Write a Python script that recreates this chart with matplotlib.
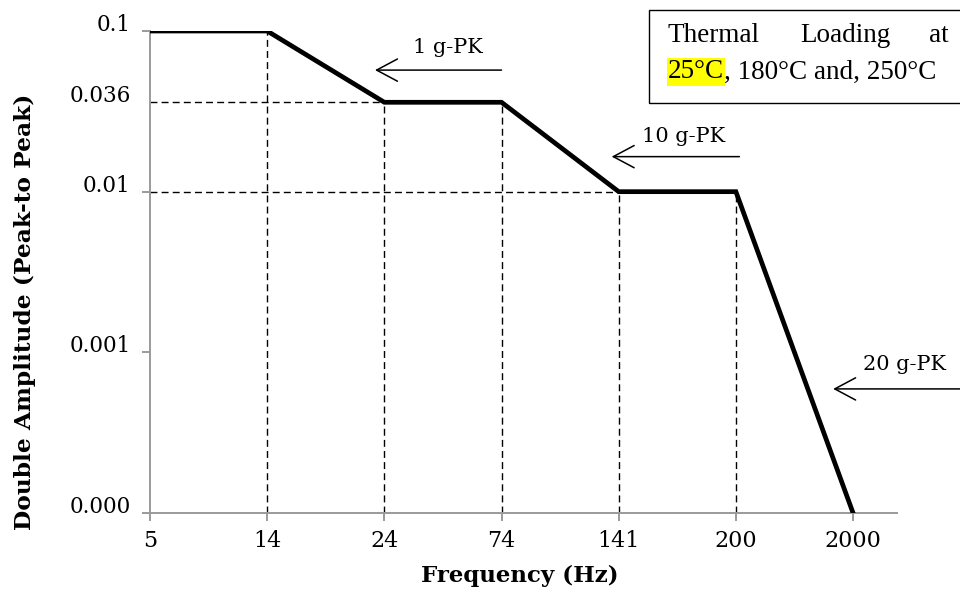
import matplotlib
matplotlib.use("Agg")
import matplotlib.pyplot as plt
from matplotlib.patches import Rectangle
from matplotlib.transforms import ScaledTranslation

# vibration profile, frequencies are plotted as equally spaced categories
freq_labels = ["5", "14", "24", "74", "141", "200", "2000"]
# "0.000" on the chart sits one decade under 0.001 on the log axis
amplitude = [0.1, 0.1, 0.036, 0.036, 0.01, 0.01, 0.0001]
ytick_vals = [0.0001, 0.001, 0.01, 0.036, 0.1]
ytick_labels = ["0.000", "0.001", "0.01", "0.036", "0.1"]

# g-PK labels: (text, text pos, arrow tail, arrow tip)
gpk_labels = ["1 g-PK", "10 g-PK", "20 g-PK"]
gpk_text_xy = [(2.54, 0.0784), (4.556, 0.0219), (6.44, 0.000835)]
gpk_tail_xy = [(3.0, 0.0571), (5.03, 0.01652), (6.93, 0.000592)]
gpk_tip_xy = [(1.92, 0.0571), (3.94, 0.01652), (5.83, 0.000592)]

tick_font = "DejaVu Serif"
box_font = "Liberation Serif"
axis_grey = "#9a9a9a"

fig = plt.figure(figsize=(9.6, 5.92), dpi=100)
ax = fig.add_axes([150/960, 1-513/592, 747/960, 482/592])

x = list(range(len(freq_labels)))
ax.plot(x, amplitude, color="black", lw=3.4, solid_joinstyle="miter", zorder=3)

# dashed guides down to the x axis and across to the y axis
for i in x[1:-1]:
    ax.plot([i, i], [ytick_vals[0], amplitude[i]], color="black", lw=1,
            dashes=(5, 3), zorder=2)
for level in (0.036, 0.01):
    first = amplitude.index(level)
    ax.plot([0, first], [level, level], color="black", lw=1,
            dashes=(5, 3), zorder=2)

ax.set_yscale("log")
ax.set_ylim(ytick_vals[0], ytick_vals[-1])
ax.set_xlim(0, 6.375)
ax.yaxis.set_minor_locator(matplotlib.ticker.NullLocator())
ax.set_yticks(ytick_vals)
ax.set_yticklabels(ytick_labels, fontsize=15.5, family=tick_font)
ax.set_xticks(x)
ax.set_xticklabels(freq_labels, fontsize=16, family=tick_font)
ax.get_yaxis().get_major_ticks()[3].tick1line.set_visible(False)

for s in ["top", "right"]:
    ax.spines[s].set_visible(False)
for s in ["left", "bottom"]:
    ax.spines[s].set_color(axis_grey)
    ax.spines[s].set_linewidth(1.4)
ax.tick_params(axis="both", color=axis_grey, width=1.4, length=6)
ax.tick_params(axis="y", pad=8)
ax.tick_params(axis="x", pad=6)
for lab in ax.get_yticklabels():
    lab.set_transform(lab.get_transform() + ScaledTranslation(0, 6/72, fig.dpi_scale_trans))

ax.set_xlabel("Frequency (Hz)", fontsize=16.5, family=tick_font, fontweight="bold", va="center")
ax.xaxis.set_label_coords(0.495, -0.131)
fig.text(25/960, 1-312/592, "Double Amplitude (Peak-to Peak)", rotation=90,
         fontsize=16.8, family=tick_font, fontweight="bold", ha="center", va="center")

for lab, txy, tail, tip in zip(gpk_labels, gpk_text_xy, gpk_tail_xy, gpk_tip_xy):
    ax.text(txy[0], txy[1], lab, fontsize=15, family=tick_font, ha="center", va="center")
    ax.annotate("", xy=tip, xytext=tail,
                arrowprops=dict(arrowstyle="->,head_length=1.5,head_width=0.8",
                                lw=1.1, color="black", shrinkA=0, shrinkB=0,
                                mutation_scale=10))

# thermal loading note, box runs off the right edge
fig.patches.append(Rectangle((649/960, 1-103/592), 0.4, 93/592, transform=fig.transFigure,
                             fill=False, edgecolor="black", lw=1, figure=fig))
line1_y = 1 - 35/592
fig.text(668/960, line1_y, "Thermal", fontsize=19.5, family=box_font, ha="left", va="center")
fig.text(800/960, line1_y, "Loading", fontsize=19.5, family=box_font, ha="left", va="center")
fig.text(949/960, line1_y, "at", fontsize=19.5, family=box_font, ha="right", va="center")
line2_y = 1 - 72/592
hl = fig.text(668/960, line2_y, "25°C", fontsize=19.5, family=box_font, ha="left", va="center",
              bbox=dict(facecolor="#ffff00", edgecolor="none", pad=1))
ax.annotate(", 180°C and, 250°C", xy=(1, 0), xycoords=hl, fontsize=19.5, family=box_font,
            ha="left", va="bottom", annotation_clip=False)

fig.savefig("out.png", dpi=100)
